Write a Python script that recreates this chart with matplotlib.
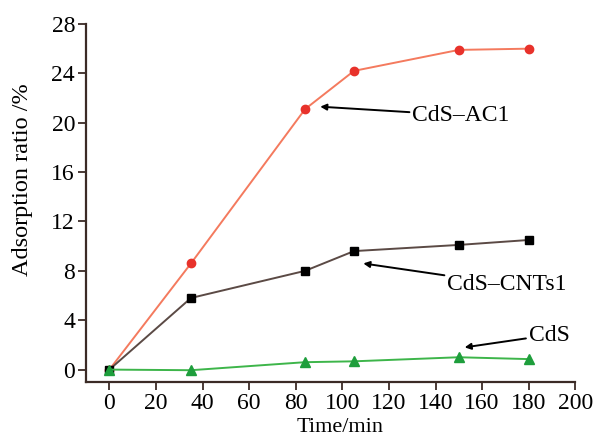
import matplotlib
matplotlib.use("Agg")
import matplotlib.pyplot as plt

plt.rcParams["font.family"] = ["Liberation Serif", "DejaVu Serif"]

time_min = [0, 35, 84, 105, 150, 180]
cds_ac1 = [0, 8.6, 21.1, 24.2, 25.9, 26.0]
cds_cnts1 = [0, 5.8, 8.0, 9.6, 10.1, 10.5]
cds = [0, -0.05, 0.6, 0.67, 1.0, 0.85]

AX_COLOR = "#3b2b26"

fig = plt.figure(figsize=(5.98, 4.36), dpi=100)
ax = fig.add_axes([0.144, 0.124, 0.818, 0.821])

ax.plot(time_min, cds_ac1, color="#f47a5e", lw=1.4, marker="o", ms=6,
        mfc="#e8322b", mec="#e8322b", zorder=3)
ax.plot(time_min, cds_cnts1, color="#5b4a45", lw=1.4, marker="s", ms=5.5,
        mfc="black", mec="black", zorder=3)
ax.plot(time_min, cds, color="#3db54a", lw=1.4, marker="^", ms=6.5,
        mfc="#1e9e3c", mec="#1e9e3c", zorder=3)

arrow = dict(arrowstyle="-|>", color="black", lw=1.4, mutation_scale=9,
             shrinkA=0, shrinkB=0)
ax.annotate("CdS–AC1", xy=(90.5, 21.3), xytext=(130, 20.6), fontsize=17,
            va="center", ha="left", arrowprops=arrow)
ax.annotate("CdS–CNTs1", xy=(109, 8.6), xytext=(145, 6.9), fontsize=17,
            va="center", ha="left", arrowprops=arrow)
ax.annotate("CdS", xy=(152.5, 1.8), xytext=(180, 2.8), fontsize=17,
            va="center", ha="left", arrowprops=arrow)

ax.set_xlim(-10, 200)
ax.set_ylim(-1, 28)
ax.set_xticks(range(0, 201, 20))
ax.set_yticks(range(0, 29, 4))
ax.tick_params(labelsize=17, colors="black", length=6, width=1.3,
               color=AX_COLOR, direction="out", pad=2)
for side in ("top", "right"):
    ax.spines[side].set_visible(False)
for side in ("left", "bottom"):
    ax.spines[side].set_color(AX_COLOR)
    ax.spines[side].set_linewidth(1.6)

ax.set_xlabel("Time/min", fontsize=16)
ax.xaxis.set_label_coords(0.52, -0.102)
ax.set_ylabel("Adsorption ratio /%", fontsize=17.5)
ax.yaxis.set_label_coords(-0.108, 0.565)

fig.savefig("out.png", dpi=100)
